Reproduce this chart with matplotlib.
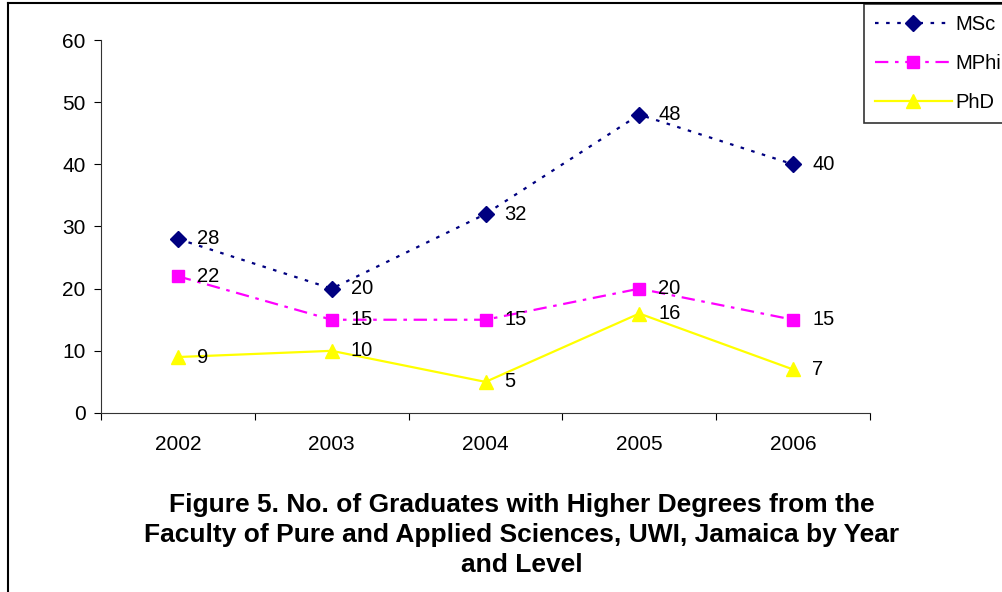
import numpy as np
import matplotlib
matplotlib.use("Agg")
import matplotlib.pyplot as plt
from matplotlib.lines import Line2D

plt.rcParams['font.family'] = ['Liberation Sans', 'DejaVu Sans']

years = ['2002', '2003', '2004', '2005', '2006']
msc = [28, 20, 32, 48, 40]
mphil = [22, 15, 15, 20, 15]
phd = [9, 10, 5, 16, 7]

fig = plt.figure(figsize=(10.03, 5.92), dpi=100)
ax = fig.add_axes([0.1007, 0.3024, 0.7667, 0.630])

x = np.arange(len(years))
series = [
    ('MSc', msc, '#000080', 'D', 8.5, (0, (1.6, 3.4))),
    ('MPhil', mphil, '#FF00FF', 's', 8.5, (0, (6, 3, 1.6, 3))),
    ('PhD', phd, '#FFFF00', '^', 10.5, '-'),
]
for name, vals, col, mk, ms, ls in series:
    ax.plot(x, vals, color=col, linestyle=ls, lw=1.6, marker=mk, ms=ms,
            markerfacecolor=col, markeredgecolor=col, label=name)
    for xi, v in zip(x, vals):
        ax.annotate(str(v), (xi, v), xytext=(19, 0), textcoords='offset pixels',
                    ha='left', va='center', fontsize=14.5)

ax.set_xlim(-0.5, len(years) - 0.5)
ax.set_ylim(0, 60)
ax.set_yticks(range(0, 61, 10))
ax.tick_params(axis='y', direction='out', length=5, labelsize=15, pad=6)
# category boundaries get the tick marks, labels sit in the middle
ax.set_xticks(np.arange(-0.5, len(years), 1))
ax.set_xticklabels([])
ax.set_xticks(x, minor=True)
ax.set_xticklabels(years, minor=True)
ax.tick_params(axis='x', which='major', direction='out', length=5)
ax.tick_params(axis='x', which='minor', length=0, labelsize=15, pad=16)
for s in ['top', 'right']:
    ax.spines[s].set_visible(False)
for s in ['left', 'bottom']:
    ax.spines[s].set_color('#333333')

fig.text(0.52, 1 - 535 / 592,
         'Figure 5. No. of Graduates with Higher Degrees from the\n'
         'Faculty of Pure and Applied Sciences, UWI, Jamaica by Year\n'
         'and Level',
         ha='center', va='center', fontsize=19, fontweight='bold',
         linespacing=1.32)

leg = fig.legend(loc='upper left', bbox_to_anchor=(864 / 1003, 1 - 4 / 592),
                 frameon=True, fancybox=False, fontsize=14.5, handlelength=3.8,
                 labelspacing=1.0, borderpad=0.55, handletextpad=0.2,
                 borderaxespad=0)
leg.get_frame().set_edgecolor('black')
leg.get_frame().set_linewidth(1.2)

# outer frame of the chart area
fig.add_artist(Line2D([8 / 1003, 8 / 1003], [-0.1, 1 - 3 / 592], color='black',
                      lw=1.5, transform=fig.transFigure))
fig.add_artist(Line2D([8 / 1003, 1.1], [1 - 3 / 592, 1 - 3 / 592], color='black',
                      lw=1.5, transform=fig.transFigure))

fig.savefig('out.png', dpi=100)
